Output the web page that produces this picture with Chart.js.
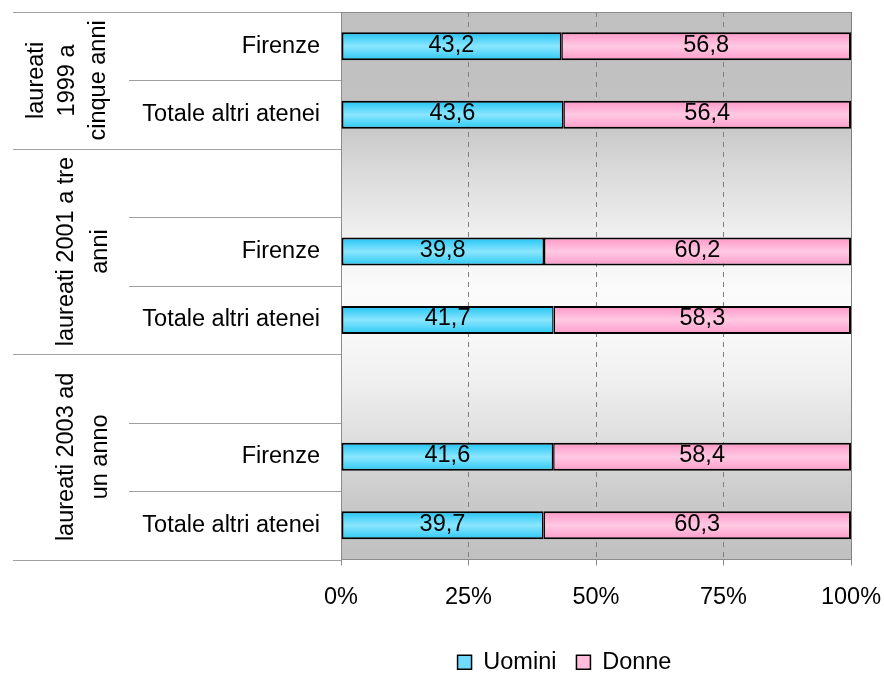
<!DOCTYPE html>
<html><head><meta charset="utf-8">
<script src="https://cdn.jsdelivr.net/npm/chart.js@4/dist/chart.umd.min.js"></script>
<style>html,body{margin:0;padding:0;background:#fff}</style>
</head><body><canvas id="c" width="884" height="673"></canvas>
<script>
// ---- data ----
const categories = ['Firenze','Totale altri atenei','','Firenze','Totale altri atenei','','Firenze','Totale altri atenei'];
const groupLabels = [['laureati','1999 a','cinque anni'],['laureati 2001 a tre','anni'],['laureati 2003 ad','un anno']];
const groupRanges = [[0,1],[2,4],[5,7]];
const seriesNames = ['Uomini','Donne'];
const uomini = [43.2,43.6,null,39.8,41.7,null,41.6,39.7];
const donne  = [56.8,56.4,null,60.2,58.3,null,58.4,60.3];
const xTickValues = [0,25,50,75,100];
const xTickLabels = ['0%','25%','50%','75%','100%'];

// ---- style ----
const FONT_FAMILY = '"Liberation Sans", Arial, sans-serif';
const FONT_SIZE = 23.5;
const FONT = FONT_SIZE + 'px ' + FONT_FAMILY;
const BAR_PCT = 0.41;
const groupBaselines = [[43,73.5,104.5],[73,106.5],[73,106.5]];
const cyanStops = [[0,'#1ec3f3'],[0.5,'#8be6ff'],[1,'#2bc8f3']];
const pinkStops = [[0,'#ff96c6'],[0.5,'#ffc9e3'],[1,'#ff9cc9']];
const legendFills = ['#6fdafc','#ffbcdc'];

function barFill(stops){
  return (ctx) => {
    const chart = ctx.chart, ys = chart.scales && chart.scales.y;
    if (ctx.type !== 'data' || !ys || !isFinite(ys.getPixelForValue(ctx.dataIndex))) return stops[1][1];
    const yc = ys.getPixelForValue(ctx.dataIndex);
    const half = Math.abs(ys.getPixelForValue(1) - ys.getPixelForValue(0)) * BAR_PCT / 2;
    if (!isFinite(half) || half <= 0) return stops[1][1];
    const g = chart.ctx.createLinearGradient(0, yc - half, 0, yc + half);
    stops.forEach(s => g.addColorStop(s[0], s[1]));
    return g;
  };
}

const plotBackground = {
  id: 'plotBackground',
  beforeDraw(chart){
    const {ctx, chartArea:a} = chart;
    const g = ctx.createLinearGradient(0, a.top, 0, a.bottom);
    [[0,'#c0c0c0'],[0.18,'#c2c2c2'],[0.28,'#d8d8d8'],[0.40,'#efefef'],[0.51,'#fbfbfb'],
     [0.59,'#f8f8f8'],[0.67,'#f0f0f0'],[0.78,'#dedede'],[0.885,'#cbcbcb'],[1,'#c0c0c0']]
     .forEach(s => g.addColorStop(s[0], s[1]));
    ctx.save(); ctx.fillStyle = g; ctx.fillRect(a.left, a.top, a.right - a.left, a.bottom - a.top); ctx.restore();
  }
};

const valueLabels = {
  id: 'valueLabels',
  afterDatasetsDraw(chart){
    const ctx = chart.ctx;
    ctx.save(); ctx.font = FONT; ctx.fillStyle = '#000'; ctx.textAlign = 'center'; ctx.textBaseline = 'middle';
    chart.data.datasets.forEach((ds, di) => {
      chart.getDatasetMeta(di).data.forEach((el, i) => {
        const v = ds.data[i]; if (v == null) return;
        const p = el.getCenterPoint();
        ctx.fillText(v.toFixed(1).replace('.', ','), p.x, p.y - 1);
      });
    });
    ctx.restore();
  }
};

const categoryFrame = {
  id: 'categoryFrame',
  afterDraw(chart){
    const ctx = chart.ctx, ys = chart.scales.y;
    const groupEdges = new Set();
    groupRanges.forEach(r => { groupEdges.add(r[0]); groupEdges.add(r[1] + 1); });
    ctx.save();
    ctx.strokeStyle = '#a0a0a0'; ctx.lineWidth = 1;
    for (let i = 0; i <= categories.length; i++) {
      const y = Math.round(ys.getPixelForValue(i - 0.5)) + 0.5;
      const x0 = groupEdges.has(i) ? 13 : 129;
      ctx.beginPath(); ctx.moveTo(x0, y); ctx.lineTo(ys.right, y); ctx.stroke();
    }
    // group labels
    ctx.font = FONT; ctx.fillStyle = '#000'; ctx.textAlign = 'center'; ctx.textBaseline = 'alphabetic';
    groupRanges.forEach((r, gi) => {
      const yTop = ys.getPixelForValue(r[0] - 0.5), yBot = ys.getPixelForValue(r[1] + 0.5);
      const yc = (yTop + yBot) / 2;
      groupLabels[gi].forEach((line, li) => {
        ctx.save();
        ctx.translate(groupBaselines[gi][li], yc);
        ctx.rotate(-Math.PI / 2);
        ctx.fillText(line, 0, 0);
        ctx.restore();
      });
    });
    ctx.restore();
  }
};

const legendShift = {
  id: 'legendShift',
  afterLayout(chart){
    const l = chart.legend; if (!l) return;
    const dx = 139, dy = 11;
    l.left += dx; l.right += dx; l.top += dy; l.bottom += dy;
  }
};

new Chart(document.getElementById('c'), {
  type: 'bar',
  data: {
    labels: categories,
    datasets: [
      { label: seriesNames[0], data: uomini, backgroundColor: barFill(cyanStops), borderColor: '#000',
        borderWidth: {top:2, bottom:2, left:2, right:1.5}, borderSkipped: false,
        barPercentage: BAR_PCT, categoryPercentage: 1 },
      { label: seriesNames[1], data: donne, backgroundColor: barFill(pinkStops), borderColor: '#000',
        borderWidth: {top:2, bottom:2, left:1.5, right:2}, borderSkipped: false,
        barPercentage: BAR_PCT, categoryPercentage: 1 }
    ]
  },
  options: {
    responsive: false, animation: false, indexAxis: 'y', devicePixelRatio: 1,
    layout: { padding: { top: 12, right: 33, left: 0, bottom: 0 } },
    plugins: {
      tooltip: { enabled: false },
      legend: {
        position: 'bottom',
        labels: {
          font: { family: FONT_FAMILY, size: FONT_SIZE }, color: '#000', boxWidth: 14, boxHeight: 14, padding: 20,
          generateLabels: (chart) => chart.data.datasets.map((ds, i) => ({
            text: ds.label, fillStyle: legendFills[i], strokeStyle: '#000', lineWidth: 1.5,
            hidden: false, datasetIndex: i, fontColor: '#000'
          }))
        }
      }
    },
    scales: {
      x: {
        stacked: true, min: 0, max: 100,
        afterBuildTicks: s => { s.ticks = xTickValues.map(v => ({ value: v })); },
        ticks: { callback: (v, i) => xTickLabels[i], font: { family: FONT_FAMILY, size: FONT_SIZE }, color: '#000', padding: 18, maxRotation: 0, autoSkip: false },
        grid: { color: '#7f7f7f', lineWidth: 1, tickLength: 6, tickColor: '#8c8c8c', tickBorderDash: [] },
        border: { color: '#8c8c8c', width: 1,
          dash: ctx => (!ctx.tick || ctx.tick.value === 0 || ctx.tick.value === 100) ? [] : [5, 5] },
        afterFit: s => { s.height = 60; s.paddingLeft = 0; s.paddingRight = 0; }
      },
      y: {
        stacked: true,
        ticks: { font: { family: FONT_FAMILY, size: FONT_SIZE }, color: '#000', padding: 21, autoSkip: false },
        grid: { offset: true, drawTicks: false, color: ctx => ctx.index === 0 ? '#8c8c8c' : 'rgba(0,0,0,0)' },
        border: { color: '#8c8c8c', width: 1 },
        afterFit: s => { s.width = 341; s.paddingTop = 0; s.paddingBottom = 0; }
      }
    }
  },
  plugins: [plotBackground, valueLabels, categoryFrame, legendShift]
});
</script>
</body></html>
